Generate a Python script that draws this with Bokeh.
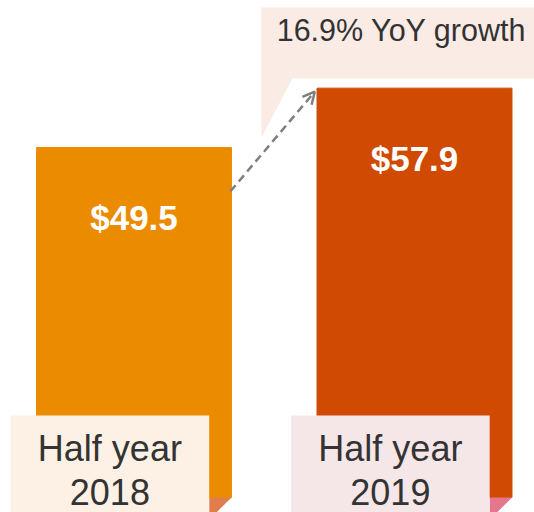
from bokeh.plotting import figure
from bokeh.models import Range1d, ColumnDataSource, Arrow, OpenHead
from bokeh.core.properties import value
from bokeh.embed import file_html
from bokeh.resources import INLINE

# ---- data ----
categories = ["Half year\n2018", "Half year\n2019"]
values = [49.5, 57.9]
value_labels = ["$49.5", "$57.9"]
growth_label = "16.9% YoY growth"

bar_colors = ["#EB8C00", "#D04A02"]
box_colors = ["#FCF1E4", "#F5E6E7"]
fold_colors = ["#DF7D4D", "#E4778C"]

W, H = 534, 512
xpx = 280.5   # px per category unit
ypx = 7.07    # px per value unit
# bar1 centre at x 133.5, baseline at y 497
x0 = -133.5 / xpx
x1 = (W - 133.5) / xpx
y0 = -(H - 497) / ypx
y1 = 497 / ypx

p = figure(width=W, height=H, output_backend="svg", toolbar_location=None,
           x_range=Range1d(x0, x1), y_range=Range1d(y0, y1),
           min_border=0, outline_line_color=None)
p.axis.visible = False
p.grid.visible = False
p.background_fill_color = "white"
p.border_fill_color = "white"

xs = list(range(len(values)))
bw = 0.695
src = ColumnDataSource(dict(x=xs, top=values, color=bar_colors, lab=value_labels))

# callout (behind everything)
cx = [0.4545, 1.5, 1.5, 0.565, 0.4545]
cy = [values[1] + 11.4, values[1] + 11.4, values[1] + 1.36, values[1] + 1.36, values[1] - 7.0]
p.patch(cx, cy, fill_color="#FBEBE5", line_color=None)
p.text(x=[0.954], y=[values[1] + 8.2], text=[growth_label], text_align="center",
       text_baseline="middle", text_font=value("Liberation Sans"),
       text_font_size="30.5px", text_color="#333333")

# bars
p.vbar(x="x", top="top", bottom=0, width=bw, color="color", source=src)

# fold triangles under the bar corners
box_l, box_r = -0.44, 0.268
for i in xs:
    br = i + bw / 2
    p.patch([i + box_r, br, br - 0.0535, i + box_r],
            [0, 0, -2.12, -2.12], fill_color=fold_colors[i], line_color=None)

# category label boxes
p.quad(left=[i + box_l for i in xs], right=[i + box_r for i in xs],
       top=[11.6] * len(xs), bottom=[-3] * len(xs),
       fill_color=box_colors, line_color=None)
p.text(x=[i + (box_l + box_r) / 2 for i in xs], y=[3.8] * len(xs), text=categories,
       text_align="center", text_baseline="middle",
       text_font=value("Liberation Sans"), text_font_size="36px",
       text_color="#333333", text_line_height=1.08)

# value labels
p.text(x="x", y="top", text="lab", source=src, y_offset=70,
       text_align="center", text_baseline="middle",
       text_font=value("Liberation Sans"), text_font_size="35px",
       text_font_style="bold", text_color="white")

# growth arrow
p.add_layout(Arrow(end=OpenHead(size=12, line_color="#7F7F7F", line_width=2.5),
                   x_start=0 + bw / 2 - 0.004, y_start=values[0] - 6.2,
                   x_end=1 - bw / 2 - 0.008, y_end=values[1] - 0.5,
                   line_color="#7F7F7F", line_width=2.5, line_dash="8 5"))

open("out.html", "w").write(file_html(p, INLINE))
